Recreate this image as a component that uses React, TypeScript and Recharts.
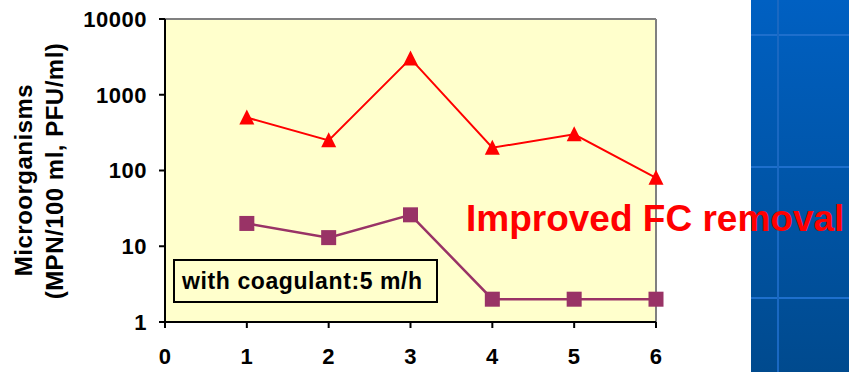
import React from "react";
import {
  LineChart,
  Line,
  XAxis,
  YAxis,
  CartesianGrid,
  ReferenceLine,
} from "recharts";

// run number along the x axis
const runs = [1, 2, 3, 4, 5, 6];
// fecal coliforms (red triangles) and the second organism (purple squares)
const fcValues = [500, 250, 3000, 200, 300, 80];
const phageValues = [20, 13, 26, 2, 2, 2];

const xTicks = [0, 1, 2, 3, 4, 5, 6];
const yTicks = [1, 10, 100, 1000, 10000];

const data = runs.map((r, i) => ({ run: r, fc: fcValues[i], phage: phageValues[i] }));

const FONT = "'Liberation Sans', Arial, sans-serif";

const Triangle = (props: { cx?: number; cy?: number; index?: number }) => {
  const { cx, cy, index } = props;
  if (cx == null || cy == null) return null;
  return (
    <path
      key={`tri-${index}`}
      d={`M${cx},${cy - 8} L${cx + 7.5},${cy + 7} L${cx - 7.5},${cy + 7} Z`}
      fill="#FF0000"
    />
  );
};

const Square = (props: { cx?: number; cy?: number; index?: number }) => {
  const { cx, cy, index } = props;
  if (cx == null || cy == null) return null;
  return (
    <rect key={`sq-${index}`} x={cx - 7.5} y={cy - 7.5} width={15} height={15} fill="#993366" />
  );
};

const tickStyle = { fill: "#000", fontSize: 22, fontWeight: 700, fontFamily: FONT, letterSpacing: 0.5 };

export default function App() {
  return (
    <div style={{ position: "absolute", left: 0, top: 0, width: 849, height: 372, background: "#fff", overflow: "hidden" }}>
      {/* blue slide panel on the right */}
      <div
        style={{
          position: "absolute",
          left: 751,
          top: 0,
          width: 98,
          height: 372,
          background: "linear-gradient(#0060C2, #004A8E)",
        }}
      >
        {[35, 167, 298].map((y) => (
          <div key={y} style={{ position: "absolute", left: 0, top: y - 1, width: 98, height: 2, background: "#1E6FCC" }} />
        ))}
        <div style={{ position: "absolute", left: 26, top: 0, width: 2, height: 372, background: "#1A68C2" }} />
      </div>

      <div style={{ position: "absolute", left: 0, top: 0 }}>
        <LineChart width={849} height={372} data={data} margin={{ top: 19, right: 193, bottom: 20, left: 85 }}>
          <CartesianGrid horizontal={false} vertical={false} fill="#FFFFCC" />
          <ReferenceLine y={10000} stroke="#808080" strokeWidth={2} />
          <ReferenceLine x={6} stroke="#808080" strokeWidth={2} />
          <XAxis
            dataKey="run"
            type="number"
            domain={[0, 6]}
            ticks={xTicks}
            height={30}
            tickSize={6}
            tickMargin={20}
            axisLine={{ stroke: "#000", strokeWidth: 2 }}
            tickLine={{ stroke: "#000", strokeWidth: 2 }}
            tick={tickStyle}
            interval={0}
          />
          <YAxis
            scale="log"
            domain={[1, 10000]}
            ticks={yTicks}
            width={80}
            allowDataOverflow
            tickSize={6}
            tickMargin={12}
            axisLine={{ stroke: "#000", strokeWidth: 2 }}
            tickLine={{ stroke: "#000", strokeWidth: 2 }}
            tick={tickStyle}
            interval={0}
          />
          <Line
            dataKey="fc"
            stroke="#FF0000"
            strokeWidth={2}
            dot={Triangle}
            activeDot={false}
            isAnimationActive={false}
          />
          <Line
            dataKey="phage"
            stroke="#993366"
            strokeWidth={2.5}
            dot={Square}
            activeDot={false}
            isAnimationActive={false}
          />
        </LineChart>
      </div>

      {/* y axis title */}
      <svg style={{ position: "absolute", left: 0, top: 0 }} width={100} height={372}>
        <text
          transform="translate(32,180) rotate(-90)"
          textAnchor="middle"
          fontFamily={FONT}
          fontWeight={700}
          fontSize={24}
          letterSpacing={0.5}
        >
          Microorganisms
        </text>
        <text
          transform="translate(63,171) rotate(-90)"
          textAnchor="middle"
          fontFamily={FONT}
          fontWeight={700}
          fontSize={24}
          letterSpacing={0.5}
        >
          (MPN/100 ml, PFU/ml)
        </text>
      </svg>

      {/* annotation box */}
      <div
        style={{
          position: "absolute",
          left: 173,
          top: 259,
          width: 254,
          height: 40,
          border: "2px solid #000",
          background: "#FFFFCC",
          fontFamily: FONT,
          fontWeight: 700,
          fontSize: 23,
          letterSpacing: 0.6,
          lineHeight: "40px",
          paddingLeft: 7,
          boxSizing: "content-box",
          whiteSpace: "nowrap",
        }}
      >
        with coagulant:5 m/h
      </div>

      {/* callout */}
      <div
        style={{
          position: "absolute",
          left: 466,
          top: 197,
          fontFamily: FONT,
          fontWeight: 700,
          fontSize: 37,
          color: "#FF0000",
          lineHeight: "44px",
          whiteSpace: "nowrap",
        }}
      >
        Improved FC removal
      </div>
    </div>
  );
}
